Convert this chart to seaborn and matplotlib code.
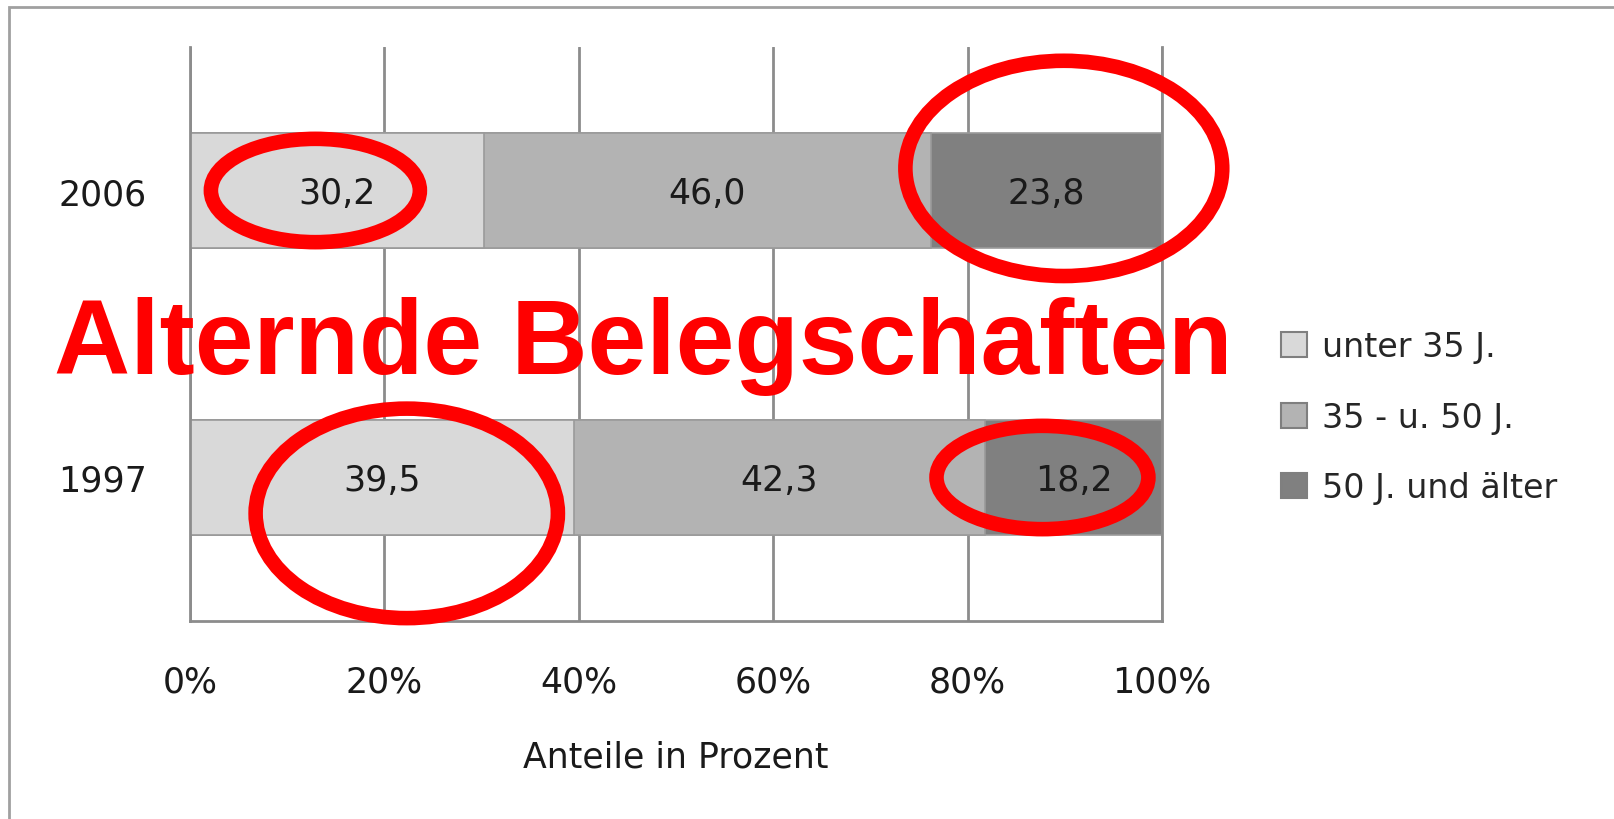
import numpy as np
import seaborn as sns
import matplotlib.pyplot as plt
from matplotlib.patches import Patch, Ellipse, Rectangle

years = ["2006", "1997"]
groups = ["unter 35 J.", "35 - u. 50 J.", "50 J. und älter"]
unter35 = [30.2, 39.5]
mitte = [46.0, 42.3]
ueber50 = [23.8, 18.2]
colors = ["#d9d9d9", "#b3b3b3", "#808080"]
xticks = [0, 20, 40, 60, 80, 100]
xticklabels = ["0%", "20%", "40%", "60%", "80%", "100%"]
title = "Alternde Belegschaften"

sns.set_style("white")
plt.rcParams['font.family'] = ['DejaVu Sans']

fig = plt.figure(figsize=(16.14, 8.20), dpi=100)
ax = fig.add_axes([190/1614, 198/820, 972/1614, 574/820])

series = [unter35, mitte, ueber50]
cum = np.cumsum(np.array(series), axis=0)

# stacked bars: draw totals first, then overlay smaller cumulative parts
for i in [2, 1, 0]:
    sns.barplot(x=list(cum[i]), y=years, order=years, orient="h",
                color=colors[i], saturation=1, width=0.4, errorbar=None,
                edgecolor="#9a9a9a", linewidth=1.2, ax=ax)

# value labels
for i, vals in enumerate(series):
    for j, v in enumerate(vals):
        left = cum[i][j] - v
        ax.text(left + v/2, j + 0.01, ("%.1f" % v).replace(".", ","),
                ha="center", va="center", fontsize=25, color="#1a1a1a")

ax.set_xlim(0, 100)
ax.set_ylim(1.5, -0.5)
ax.set_xticks(xticks)
ax.set_xticklabels(xticklabels, fontsize=25, color="#1a1a1a")
ax.tick_params(axis="x", length=7, width=2, color="#8c8c8c", pad=24)
ax.tick_params(axis="y", length=0, pad=31, labelsize=25, labelcolor="#1a1a1a")
ax.set_ylabel("")
ax.set_xlabel("Anteile in Prozent", fontsize=25, color="#1a1a1a", labelpad=30)

ax.set_axisbelow(True)
ax.xaxis.grid(True, color="#8c8c8c", linewidth=2)
for s in ["left", "right", "bottom"]:
    ax.spines[s].set_visible(True)
    ax.spines[s].set_color("#8c8c8c")
    ax.spines[s].set_linewidth(2)
ax.spines["top"].set_visible(False)

handles = [Patch(facecolor=c, edgecolor="#7f7f7f", linewidth=1.5) for c in colors]
fig.legend(handles, groups, loc="center left", bbox_to_anchor=(1281/1614, 0.49),
           frameon=False, fontsize=24, handlelength=0.78, handleheight=0.78,
           handletextpad=0.45, labelspacing=1.12, borderpad=0, borderaxespad=0)

# outer frame
fig.patches.append(Rectangle((9/1614, -0.1), 1.2, (820-8)/820 + 0.1,
                             transform=fig.transFigure, fill=False,
                             edgecolor="#a0a0a0", linewidth=2))

# red overlay
fig.text(643/1614, 1 - 347/820, title, ha="center", va="center",
         fontsize=76, fontweight="bold", color="#ff0000",
         family="Liberation Sans")

ellipses = [(12.9, 0.0, 21.5, 0.36), (89.9, -0.077, 32.6, 0.75),
            (22.3, 1.125, 31.1, 0.73), (87.7, 1.0, 21.8, 0.36)]
for x, y, w, h in ellipses:
    ax.add_patch(Ellipse((x, y), w, h, fill=False, edgecolor="#ff0000",
                         linewidth=10.5, clip_on=False, zorder=5))

fig.savefig("out.png", dpi=100)
